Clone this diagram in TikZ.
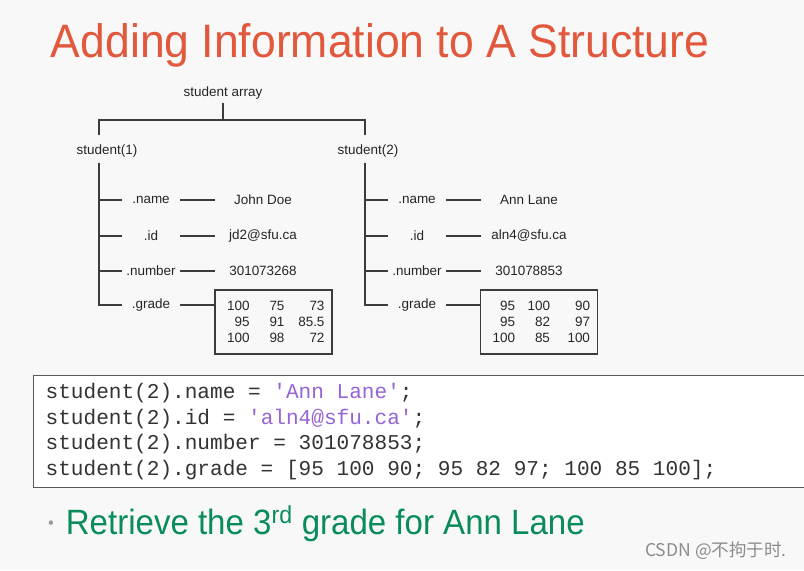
\documentclass[tikz,border=0pt]{standalone}
\usepackage{fontspec}
\setmainfont{Liberation Sans}
\setmonofont{Liberation Mono}
\newfontfamily\cjk{Noto Sans CJK SC}
\usetikzlibrary{positioning}

\definecolor{bggray}{RGB}{248,248,248}
\definecolor{titlered}{RGB}{226,88,60}
\definecolor{taskgreen}{RGB}{10,140,90}
\definecolor{strpurple}{RGB}{150,100,215}
\definecolor{treeline}{RGB}{60,60,60}

% one row of a grade matrix, right aligned columns
\newcommand{\gradeline}[3]{\makebox[8.1mm][r]{#1}\makebox[10.5mm][r]{#2}\makebox[12mm][r]{#3}}
% fixed width blank for the code listing
\newcommand{\blank}{\hspace*{0.6em}}

\begin{document}
\begin{tikzpicture}[x=0.3mm, y=-0.3mm,
  treefont/.style={font=\fontsize{11.5}{13.6}\selectfont, text=black!85},
  field/.style={treefont, minimum width=17.4mm, inner sep=0pt},
  value/.style={treefont, minimum width=28.8mm, inner sep=0pt},
  gradebox/.style={treefont, draw=treeline, line width=0.9pt, minimum width=35.1mm,
    minimum height=19.2mm, inner sep=0pt, align=left},
  wire/.style={draw=treeline, line width=0.9pt}]

\useasboundingbox (0,0) rectangle (804,570);
\fill[bggray] (0,0) rectangle (804,570);

% --- title ---
\node[anchor=west, xscale=0.95, text=titlered, font=\fontsize{40}{48}\selectfont]
  (title) at (47,45) {Adding Information to A Structure};

% --- tree ---
\node[treefont] (sa) at (223,93) {student array};
\coordinate (bus) at (223,120);
\coordinate (c1) at (99,135);
\coordinate (c2) at (365,135);
\node[treefont] (s1) at (107,151) {student(1)};
\node[treefont] (s2) at (368,151) {student(2)};

\draw[wire] (sa) -- (bus);
\draw[wire] (c1) |- (bus) -| (c2);

% student(1) fields
\coordinate (t1) at (99,163);
\node[field] (n1) at (151,200) {.name};
\node[field] (i1) at (151,236) {.id};
\node[field] (m1) at (151,271) {.number};
\node[field] (g1) at (151,305) {.grade};
\node[value] (vn1) at (263,200) {John Doe};
\node[value] (vi1) at (263,236) {jd2@sfu.ca};
\node[value] (vm1) at (263,271) {301073268};
\node[gradebox] (vg1) at (273.5,322)
  {\gradeline{100}{75}{73}\\ \gradeline{95}{91}{85.5}\\ \gradeline{100}{98}{72}};

\draw[wire] (t1) |- (g1.west);
\draw[wire] (t1 |- n1.west) -- (n1.west);
\draw[wire] (t1 |- i1.west) -- (i1.west);
\draw[wire] (t1 |- m1.west) -- (m1.west);
\draw[wire] (n1.east) -- (vn1.west);
\draw[wire] (i1.east) -- (vi1.west);
\draw[wire] (m1.east) -- (vm1.west);
\draw[wire] (g1.east) -- (g1.east -| vg1.west);

% student(2) fields
\coordinate (t2) at (365,163);
\node[field] (n2) at (417,200) {.name};
\node[field] (i2) at (417,236) {.id};
\node[field] (m2) at (417,271) {.number};
\node[field] (g2) at (417,305) {.grade};
\node[value] (vn2) at (529,200) {Ann Lane};
\node[value] (vi2) at (529,236) {aln4@sfu.ca};
\node[value] (vm2) at (529,271) {301078853};
\node[gradebox] (vg2) at (539,322)
  {\gradeline{95}{100}{90}\\ \gradeline{95}{82}{97}\\ \gradeline{100}{85}{100}};

\draw[wire] (t2) |- (g2.west);
\draw[wire] (t2 |- n2.west) -- (n2.west);
\draw[wire] (t2 |- i2.west) -- (i2.west);
\draw[wire] (t2 |- m2.west) -- (m2.west);
\draw[wire] (n2.east) -- (vn2.west);
\draw[wire] (i2.east) -- (vi2.west);
\draw[wire] (m2.east) -- (vm2.west);
\draw[wire] (g2.east) -- (g2.east -| vg2.west);

% --- code listing ---
\begin{scope}
\clip (0,0) rectangle (804,570);
\node[anchor=north west, draw=black!65, line width=1.1pt, fill=white,
  text width=227mm, inner xsep=3.6mm, inner ysep=0pt, minimum height=33.6mm,
  align=left, text=black!80, font=\ttfamily\fontsize{18}{21.8}\selectfont]
  (code) at (33,375)
  {student(2).name\blank=\blank\textcolor{strpurple}{'Ann\blank Lane'};\\
   student(2).id\blank=\blank\textcolor{strpurple}{'aln4@sfu.ca'};\\
   student(2).number\blank=\blank301078853;\\
   student(2).grade\blank=\blank[95\blank100\blank90;\blank95\blank82\blank97;\blank100\blank85\blank100];};
\end{scope}

% --- task ---
\node[text=black!40, font=\fontsize{14}{16}\selectfont] (dot) at (51,525) {\textbullet};
\node[anchor=west, xscale=0.94, text=taskgreen, font=\fontsize{30}{36}\selectfont]
  (task) at (62,524) {Retrieve the 3\textsuperscript{rd} grade for Ann Lane};

\node[anchor=east, text=black!45, font=\cjk\fontsize{15}{17}\selectfont]
  (mark) at (791,551) {CSDN @不拘于时.};

\end{tikzpicture}
\end{document}
